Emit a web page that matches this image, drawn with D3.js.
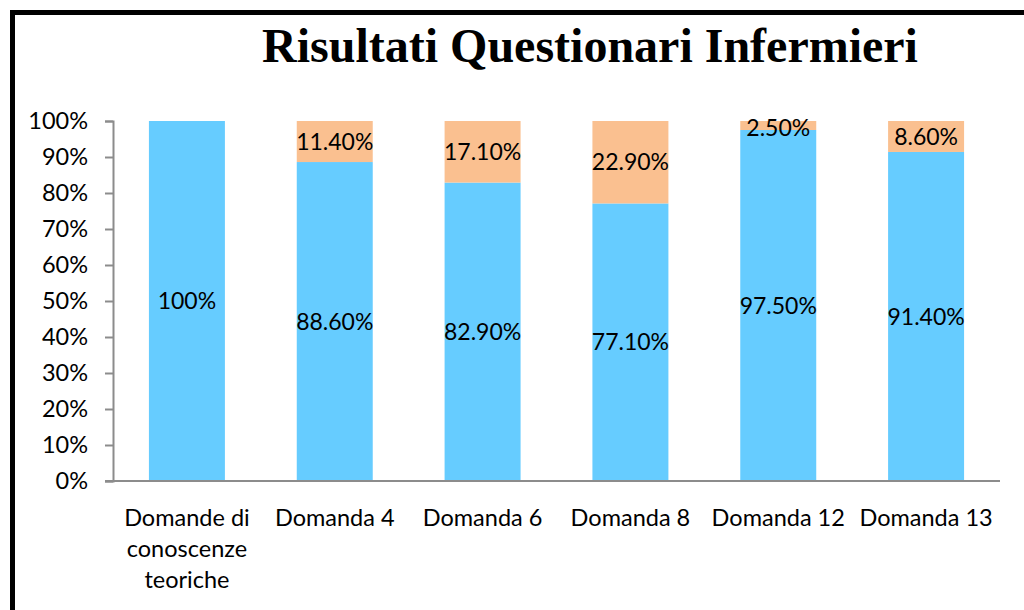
<!DOCTYPE html>
<html>
<head>
<meta charset="utf-8">
<script src="https://cdn.jsdelivr.net/npm/d3@7"></script>
<style>
  body { margin: 0; background: #fff; }
  svg text { font-family: Lato, "Open Sans", sans-serif; }
</style>
</head>
<body>
<div id="container" style="width:1024px;height:610px;"></div>
<script>
const categories = ["Domande di conoscenze teoriche", "Domanda 4", "Domanda 6", "Domanda 8", "Domanda 12", "Domanda 13"];
const catLines = [["Domande di", "conoscenze", "teoriche"], ["Domanda 4"], ["Domanda 6"], ["Domanda 8"], ["Domanda 12"], ["Domanda 13"]];
const corrette = [100, 88.6, 82.9, 77.1, 97.5, 91.4];
const sbagliate = [0, 11.4, 17.1, 22.9, 2.5, 8.6];
const correttaLabels = ["100%", "88.60%", "82.90%", "77.10%", "97.50%", "91.40%"];
const sbagliataLabels = ["", "11.40%", "17.10%", "22.90%", "2.50%", "8.60%"];
const yTicks = [0, 10, 20, 30, 40, 50, 60, 70, 80, 90, 100];

const width = 1024, height = 610;

const svg = d3.select("#container")
    .append("svg")
    .attr("width", width)
    .attr("height", height);

// outer frame (top and left edges visible)
svg.append("path")
    .attr("d", "M12.5,612 L12.5,12.5 L1030,12.5")
    .attr("fill", "none")
    .attr("stroke", "#000")
    .attr("stroke-width", 5);

svg.append("text")
    .attr("x", 590)
    .attr("y", 62)
    .attr("text-anchor", "middle")
    .style("font-family", "'Liberation Serif', 'Times New Roman', serif")
    .style("font-weight", "bold")
    .style("font-size", "48px")
    .text("Risultati Questionari Infermieri");

const x = d3.scaleBand()
    .domain(categories)
    .range([113, 1000])
    .paddingInner(0.486)
    .paddingOuter(0.243);

const y = d3.scaleLinear()
    .domain([0, 100])
    .range([481, 121]);

const rows = categories.map((c, i) => ({
    cat: c,
    a: corrette[i],
    b: sbagliate[i],
    la: correttaLabels[i],
    lb: sbagliataLabels[i]
}));

// bars
svg.append("g").selectAll("rect")
    .data(rows)
    .join("rect")
    .attr("x", d => x(d.cat))
    .attr("width", x.bandwidth())
    .attr("y", d => y(d.a))
    .attr("height", d => y(0) - y(d.a))
    .attr("fill", "#66CCFF");

svg.append("g").selectAll("rect")
    .data(rows.filter(d => d.b > 0))
    .join("rect")
    .attr("x", d => x(d.cat))
    .attr("width", x.bandwidth())
    .attr("y", d => y(d.a + d.b))
    .attr("height", d => y(d.a) - y(d.a + d.b))
    .attr("fill", "#FAC090");

// y axis
const yAxis = svg.append("g")
    .attr("transform", "translate(113,0)")
    .call(d3.axisLeft(y).tickValues(yTicks).tickFormat(d => d + "%").tickSize(8).tickPadding(17));
yAxis.selectAll("line, path").attr("stroke", "#8c8c8c").attr("stroke-width", 2);
yAxis.selectAll("text").style("font-size", "23.5px").attr("fill", "#000");

// x axis baseline
svg.append("line")
    .attr("x1", 105).attr("x2", 1000)
    .attr("y1", y(0)).attr("y2", y(0))
    .attr("stroke", "#8c8c8c").attr("stroke-width", 2);

// x labels
const xl = svg.append("g").selectAll("text")
    .data(rows)
    .join("text")
    .attr("text-anchor", "middle")
    .attr("y", 526)
    .style("font-size", "23.5px")
    .attr("fill", "#000");
xl.each(function(d, i) {
    const t = d3.select(this);
    catLines[i].forEach((ln, j) => {
        t.append("tspan")
            .attr("x", x(d.cat) + x.bandwidth() / 2)
            .attr("dy", j === 0 ? 0 : 31)
            .text(ln);
    });
});

// data labels
svg.append("g").selectAll("text")
    .data(rows)
    .join("text")
    .attr("x", d => x(d.cat) + x.bandwidth() / 2)
    .attr("y", d => y(d.a / 2))
    .attr("dy", "0.35em")
    .attr("text-anchor", "middle")
    .style("font-size", "23px")
    .text(d => d.la);

svg.append("g").selectAll("text")
    .data(rows.filter(d => d.b > 0))
    .join("text")
    .attr("x", d => x(d.cat) + x.bandwidth() / 2)
    .attr("y", d => Math.max(y(d.a + d.b / 2), 128))
    .attr("dy", "0.35em")
    .attr("text-anchor", "middle")
    .style("font-size", "23px")
    .text(d => d.lb);
</script>
</body>
</html>
